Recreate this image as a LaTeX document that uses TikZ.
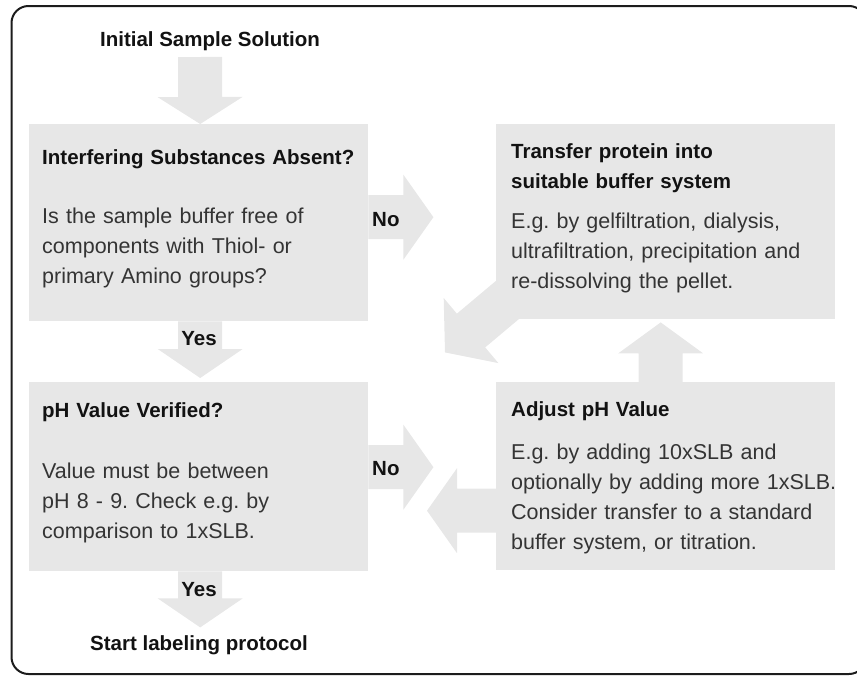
\documentclass[tikz,border=0pt]{standalone}
\usepackage{fontspec}
\setmainfont{Liberation Sans}
\usetikzlibrary{calc,backgrounds}
\frenchspacing

\definecolor{panel}{RGB}{231,231,231}
\definecolor{headtext}{RGB}{18,18,18}
\definecolor{bodytext}{RGB}{52,52,52}
\definecolor{framecol}{RGB}{28,28,28}

% wide flat arrow: #1 tail, #2 tip, #3 head length
\newcommand\blockarrow[3]{%
  \path (#2) coordinate (ba-tip) ($(#2)!#3!(#1)$) coordinate (ba-base);
  \fill[panel] ($(#1)!22pt!90:(#2)$)
    -- ($(ba-base)!22pt!90:(ba-tip)$)
    -- ($(ba-base)!42.5pt!90:(ba-tip)$)
    -- (ba-tip)
    -- ($(ba-base)!42.5pt!-90:(ba-tip)$)
    -- ($(ba-base)!22pt!-90:(ba-tip)$)
    -- ($(#1)!22pt!-90:(#2)$) -- cycle;
}

\tikzset{
  head/.style={font=\fontsize{20.5}{30}\selectfont\bfseries, text=headtext, inner sep=0pt},
  headblock/.style={head, anchor=base west, text width=330pt, align=left},
  body/.style={font=\fontsize{21.5}{30}\selectfont, text=bodytext, inner sep=0pt,
    anchor=base west, text width=360pt, align=left},
  panelbox/.style={fill=panel, inner sep=0pt, anchor=north west},
}

\begin{document}
\begin{tikzpicture}[x=1pt, y=-1pt]
\useasboundingbox (0,0) rectangle (857,675);
\clip (0,0) rectangle (857,675);

% outer frame
\draw[framecol, line width=2pt, rounded corners=17pt] (11.5,6) rectangle (866,674);

% panels
\node[panelbox, minimum width=339pt, minimum height=197pt] (q1) at (29,124) {};
\node[panelbox, minimum width=339pt, minimum height=195pt] (tr) at (496,124) {};
\node[panelbox, minimum width=339pt, minimum height=189pt] (q2) at (29,382) {};
\node[panelbox, minimum width=339pt, minimum height=188pt] (adj) at (496,382) {};

% panel texts
\node[headblock] (q1h) at (42,164) {Interfering Substances Absent?};
\node[body] (q1b) at (42,223) {Is the sample buffer free of\\components with Thiol- or\\primary Amino groups?};

\node[headblock] (trh) at (511,158.5) {Transfer protein into\\suitable buffer system};
\node[body] (trb) at (511,228.5) {E.g. by gelfiltration, dialysis,\\ultrafiltration, precipitation and\\re-dissolving the pellet.};

\node[headblock] (q2h) at (42,417.5) {pH Value Verified?};
\node[body] (q2b) at (42,478) {Value must be between\\pH 8 - 9. Check e.g. by\\comparison to 1xSLB.};

\node[headblock] (adjh) at (511,416.5) {Adjust pH Value};
\node[body] (adjb) at (511,459.5) {E.g. by adding 10xSLB and\\optionally by adding more 1xSLB.\\Consider transfer to a standard\\buffer system, or titration.};

% start / end texts and arrow labels
\node[head, anchor=base] (start) at (210,46) {Initial Sample Solution};
\node[head, anchor=base] (finish) at (199,650) {Start labeling protocol};
\node[head, anchor=base] (yes1) at (199,345) {Yes};
\node[head, anchor=base] (yes2) at (199,596) {Yes};
\node[head, anchor=base west] (no1) at (372,226) {No};
\node[head, anchor=base west] (no2) at (372,475.5) {No};

% arrow end points
\coordinate (in-tail) at (200,57);
\coordinate (in-tip) at ([xshift=1.5pt]q1.north);
\coordinate (yes1-tail) at ([xshift=1.5pt]q1.south);
\coordinate (yes1-tip) at ([xshift=1.5pt,yshift=4pt]q2.north);
\coordinate (yes2-tail) at ([xshift=1.5pt]q2.south);
\coordinate (yes2-tip) at ([xshift=1.5pt,yshift=-56pt]q2.south);
\coordinate (no1-tail) at ([yshift=5.5pt]q1.east);
\coordinate (no1-tip) at ([xshift=65pt]no1-tail);
\coordinate (no2-tail) at ([yshift=9.5pt]q2.east);
\coordinate (no2-tip) at ([xshift=65pt]no2-tail);
\coordinate (back-tail) at ([yshift=-34.5pt]adj.west);
\coordinate (back-tip) at ([xshift=-69pt]back-tail);
\coordinate (up-tail) at ([xshift=-5pt]adj.north);
\coordinate (up-tip) at ([xshift=-5pt,yshift=-3pt]tr.south);
\coordinate (diag-tail) at ([xshift=24pt,yshift=30pt]tr.south west);
\coordinate (diag-tip) at ([xshift=-51pt,yshift=-33pt]tr.south west);

\begin{pgfonlayer}{background}
  \blockarrow{in-tail}{in-tip}{27pt}
  \blockarrow{yes1-tail}{yes1-tip}{29pt}
  \blockarrow{yes2-tail}{yes2-tip}{29pt}
  \blockarrow{no1-tail}{no1-tip}{30pt}
  \blockarrow{no2-tail}{no2-tip}{30pt}
  \blockarrow{back-tail}{back-tip}{30pt}
  \blockarrow{up-tail}{up-tip}{31pt}
  \blockarrow{diag-tail}{diag-tip}{34pt}
\end{pgfonlayer}
\end{tikzpicture}
\end{document}
